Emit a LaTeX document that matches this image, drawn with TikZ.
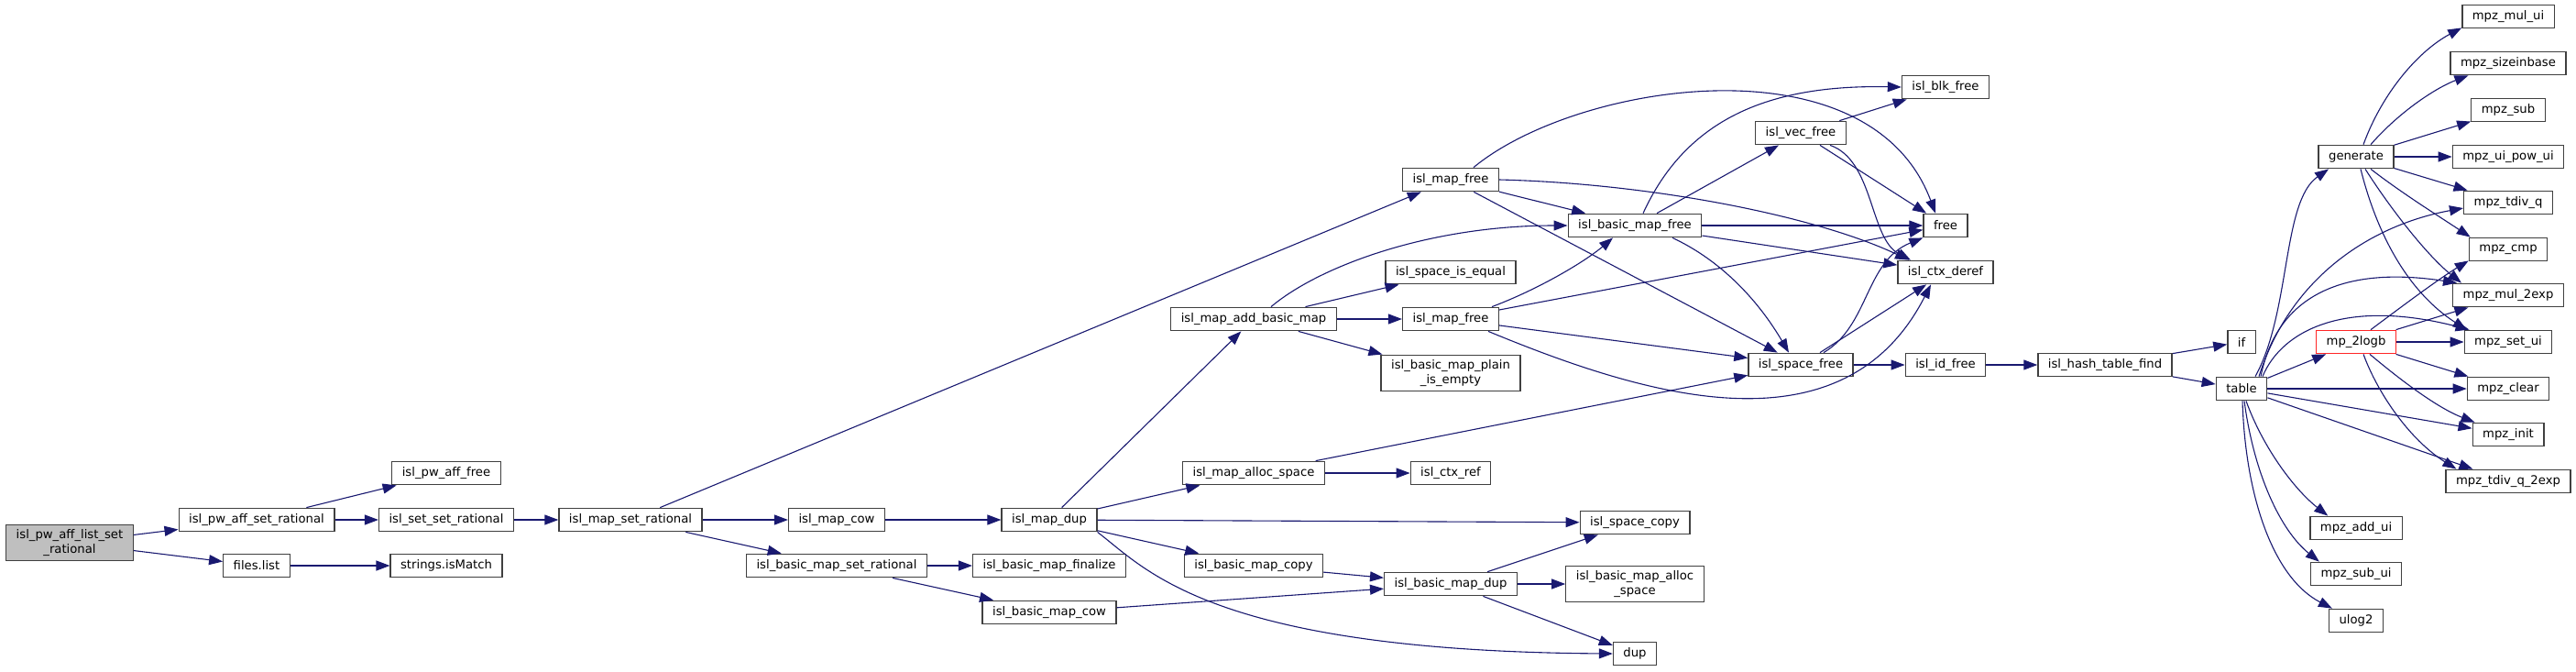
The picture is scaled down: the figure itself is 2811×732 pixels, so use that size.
\documentclass[tikz,border=0pt]{standalone}
\usepackage{fontspec}
\setmainfont{DejaVu Sans}
\usepackage{xcolor}
\usetikzlibrary{arrows.meta}
\definecolor{blunotte}{HTML}{191970}
\definecolor{bordo}{HTML}{404040}
\definecolor{grigio}{HTML}{BFBFBF}

\begin{document}
\begin{tikzpicture}[x=1pt, y=1pt,
    funz/.style={draw=bordo, line width=1.3pt, fill=white, align=center,
        font=\fontsize{13.2}{15.5}\selectfont, inner xsep=11pt, inner ysep=5.5pt,
        minimum height=25.5pt},
    radice/.style={funz, fill=grigio},
    tronca/.style={funz, draw=red!85},
    punta/.tip={Triangle[length=15pt, width=11pt]},
    arco/.style={draw=blunotte, line width=1.1pt, -punta}]
    \useasboundingbox (0,0) rectangle (2811,-732);

    % Colonna di partenza
    \node[radice] (radice) at (76,-592) {isl\_pw\_aff\_list\_set\\\_rational};
    \node[funz] (pwset) at (280,-567) {isl\_pw\_aff\_set\_rational};
    \node[funz] (files) at (280,-617) {files.list};
    \node[funz] (pwfree) at (487,-516) {isl\_pw\_aff\_free};
    \node[funz] (setset) at (487,-567) {isl\_set\_set\_rational};
    \node[funz] (ismatch) at (487,-617) {strings.isMatch};
    \node[funz] (mapset) at (688,-567) {isl\_map\_set\_rational};

    % Mappe
    \node[funz] (mapcow) at (913,-567) {isl\_map\_cow};
    \node[funz] (bmapset) at (913,-617) {isl\_basic\_map\_set\_rational};
    \node[funz] (mapdup) at (1145,-567) {isl\_map\_dup};
    \node[funz] (bmapfin) at (1145,-617) {isl\_basic\_map\_finalize};
    \node[funz] (bmapcow) at (1145,-668) {isl\_basic\_map\_cow};
    \node[funz] (mapadd) at (1368,-348) {isl\_map\_add\_basic\_map};
    \node[funz] (mapalloc) at (1368,-516) {isl\_map\_alloc\_space};
    \node[funz] (bmapcopy) at (1368,-617) {isl\_basic\_map\_copy};
    \node[funz] (mapfreeA) at (1583,-196) {isl\_map\_free};
    \node[funz] (spaceeq) at (1583,-297) {isl\_space\_is\_equal};
    \node[funz] (mapfreeB) at (1583,-348) {isl\_map\_free};
    \node[funz] (bmapempty) at (1583,-407) {isl\_basic\_map\_plain\\\_is\_empty};
    \node[funz] (ctxref) at (1583,-516) {isl\_ctx\_ref};
    \node[funz] (bmapdup) at (1583,-637) {isl\_basic\_map\_dup};
    \node[funz] (bmapfree) at (1784,-246) {isl\_basic\_map\_free};
    \node[funz] (spacecopy) at (1784,-570) {isl\_space\_copy};
    \node[funz] (bmapalloc) at (1784,-637) {isl\_basic\_map\_alloc\\\_space};
    \node[funz] (dupf) at (1784,-713) {dup};

    % Liberazione e contesto
    \node[funz] (vecfree) at (1965,-145) {isl\_vec\_free};
    \node[funz] (spacefree) at (1965,-398) {isl\_space\_free};
    \node[funz] (blkfree) at (2123,-95) {isl\_blk\_free};
    \node[funz] (free) at (2123,-246) {free};
    \node[funz] (ctxderef) at (2123,-297) {isl\_ctx\_deref};
    \node[funz] (idfree) at (2123,-398) {isl\_id\_free};
    \node[funz] (hashfind) at (2297,-398) {isl\_hash\_table\_find};
    \node[funz] (ifn) at (2446,-373) {if};
    \node[funz] (tabella) at (2446,-424) {table};

    % GMP
    \node[funz] (generate) at (2571,-171) {generate};
    \node[tronca] (logb) at (2571,-373) {mp\_2logb};
    \node[funz] (addui) at (2571,-576) {mpz\_add\_ui};
    \node[funz] (subui) at (2571,-626) {mpz\_sub\_ui};
    \node[funz] (ulog) at (2571,-677) {ulog2};
    \node[funz] (mului) at (2737,-18) {mpz\_mul\_ui};
    \node[funz] (sizeinb) at (2737,-69) {mpz\_sizeinbase};
    \node[funz] (mpzsub) at (2737,-120) {mpz\_sub};
    \node[funz] (powui) at (2737,-171) {mpz\_ui\_pow\_ui};
    \node[funz] (tdivq) at (2737,-221) {mpz\_tdiv\_q};
    \node[funz] (cmp) at (2737,-272) {mpz\_cmp};
    \node[funz] (mul2exp) at (2737,-322) {mpz\_mul\_2exp};
    \node[funz] (setui) at (2737,-373) {mpz\_set\_ui};
    \node[funz] (clear) at (2737,-424) {mpz\_clear};
    \node[funz] (init) at (2737,-474) {mpz\_init};
    \node[funz] (tdivqexp) at (2737,-525) {mpz\_tdiv\_q\_2exp};

    % Archi diritti
    \draw[arco] (radice) -- (pwset);
    \draw[arco] (radice) -- (files);
    \draw[arco] (pwset) -- (pwfree);
    \draw[arco] (pwset) -- (setset);
    \draw[arco] (files) -- (ismatch);
    \draw[arco] (setset) -- (mapset);
    \draw[arco] (mapset) -- (mapfreeA);
    \draw[arco] (mapset) -- (mapcow);
    \draw[arco] (mapset) -- (bmapset);
    \draw[arco] (mapcow) -- (mapdup);
    \draw[arco] (bmapset) -- (bmapfin);
    \draw[arco] (bmapset) -- (bmapcow);
    \draw[arco] (mapdup) -- (mapadd);
    \draw[arco] (mapdup) -- (mapalloc);
    \draw[arco] (mapdup) -- (spacecopy);
    \draw[arco] (mapdup) -- (bmapcopy);
    \draw[arco] (bmapcopy) -- (bmapdup);
    \draw[arco] (bmapcow) -- (bmapdup);
    \draw[arco] (mapalloc) -- (spacefree);
    \draw[arco] (mapalloc) -- (ctxref);
    \draw[arco] (mapadd) -- (spaceeq);
    \draw[arco] (mapadd) -- (mapfreeB);
    \draw[arco] (mapadd) -- (bmapempty);
    \draw[arco] (mapfreeA) -- (bmapfree);
    \draw[arco] (mapfreeA) -- (spacefree);
    \draw[arco] (mapfreeB) -- (free);
    \draw[arco] (mapfreeB) -- (spacefree);
    \draw[arco] (bmapfree) -- (vecfree);
    \draw[arco] (bmapfree) -- (free);
    \draw[arco] (bmapfree) -- (ctxderef);
    \draw[arco] (vecfree) -- (blkfree);
    \draw[arco] (vecfree) -- (free);
    \draw[arco] (spacefree) -- (ctxderef);
    \draw[arco] (spacefree) -- (idfree);
    \draw[arco] (idfree) -- (hashfind);
    \draw[arco] (hashfind) -- (ifn);
    \draw[arco] (hashfind) -- (tabella);
    \draw[arco] (bmapdup) -- (spacecopy);
    \draw[arco] (bmapdup) -- (bmapalloc);
    \draw[arco] (bmapdup) -- (dupf);
    \draw[arco] (tabella) -- (logb);
    \draw[arco] (tabella) -- (clear);
    \draw[arco] (tabella) -- (init);
    \draw[arco] (tabella) -- (tdivqexp);
    \draw[arco] (generate) -- (mpzsub);
    \draw[arco] (generate) -- (powui);
    \draw[arco] (generate) -- (tdivq);
    \draw[arco] (logb) -- (mul2exp);
    \draw[arco] (logb) -- (setui);
    \draw[arco] (logb) -- (clear);

    % Archi curvi
    \draw[arco] (mapdup.south east) .. controls (1250,-620) and (1320,-710) .. (dupf.west);
    \draw[arco] ([xshift=19pt]mapadd.north) .. controls (1440,-290) and (1560,-246) .. (bmapfree.west);
    \draw[arco] ([xshift=25pt]mapfreeA.north) .. controls (1720,-90) and (2040,-40) .. ([xshift=-11pt]free.north);
    \draw[arco] (mapfreeA.east) .. controls (1800,-200) and (1980,-235) .. ([xshift=-40pt]ctxderef.north);
    \draw[arco] ([xshift=41pt]mapfreeB.south) .. controls (1790,-430) and (2010,-500) .. ([xshift=-16pt]ctxderef.south);
    \draw[arco] ([xshift=45pt]mapfreeB.north) .. controls (1680,-315) and (1730,-285) .. ([xshift=-24pt]bmapfree.south);
    \draw[arco] ([xshift=9pt]bmapfree.north) .. controls (1840,-130) and (1930,-92) .. (blkfree.west);
    \draw[arco] ([xshift=41pt]bmapfree.south) .. controls (1880,-285) and (1920,-330) .. ([xshift=-13pt]spacefree.north);
    \draw[arco] ([xshift=25pt]spacefree.north) .. controls (2040,-355) and (2035,-285) .. (free.south west);
    \draw[arco] ([xshift=32pt]vecfree.south) .. controls (2045,-175) and (2040,-260) .. ([xshift=-38pt]ctxderef.north);

    % table e generate
    \draw[arco] ([xshift=15pt]tabella.north) .. controls (2500,-340) and (2490,-220) .. ([xshift=-30pt]generate.south);
    \draw[arco] ([xshift=19pt]tabella.north) .. controls (2500,-300) and (2590,-245) .. ([yshift=-6pt]tdivq.west);
    \draw[arco] ([xshift=21pt]tabella.north) .. controls (2485,-320) and (2560,-290) .. ([xshift=5pt]mul2exp.north west);
    \draw[arco] ([xshift=23pt]tabella.north) .. controls (2490,-360) and (2560,-325) .. ([xshift=6pt]setui.north west);
    \draw[arco] ([xshift=5pt]tabella.south) .. controls (2470,-490) and (2505,-535) .. ([xshift=20pt]addui.north west);
    \draw[arco] ([xshift=3pt]tabella.south) .. controls (2460,-520) and (2490,-580) .. ([xshift=10pt]subui.north west);
    \draw[arco] ([xshift=1pt]tabella.south) .. controls (2450,-540) and (2480,-630) .. ([xshift=4pt]ulog.north west);
    \draw[arco] ([xshift=8pt]generate.north) .. controls (2600,-100) and (2640,-55) .. ([yshift=1pt]mului.south west);
    \draw[arco] ([xshift=16pt]generate.north) .. controls (2620,-120) and (2660,-95) .. ([xshift=20pt]sizeinb.south west);
    \draw[arco] ([xshift=16pt]generate.south) .. controls (2620,-210) and (2660,-235) .. ([xshift=2pt]cmp.north west);
    \draw[arco] ([xshift=10pt]generate.south) .. controls (2610,-230) and (2650,-280) .. ([xshift=10pt]mul2exp.north west);
    \draw[arco] ([xshift=5pt]generate.south) .. controls (2595,-260) and (2630,-320) .. ([xshift=3pt]setui.north west);
    \draw[arco] ([xshift=16pt]logb.north) .. controls (2620,-335) and (2660,-305) .. ([yshift=1pt]cmp.south west);
    \draw[arco] ([xshift=15pt]logb.south) .. controls (2620,-415) and (2660,-445) .. ([xshift=3pt]init.north west);
    \draw[arco] ([xshift=8pt]logb.south) .. controls (2595,-430) and (2630,-480) .. ([xshift=12pt]tdivqexp.north west);
\end{tikzpicture}
\end{document}
